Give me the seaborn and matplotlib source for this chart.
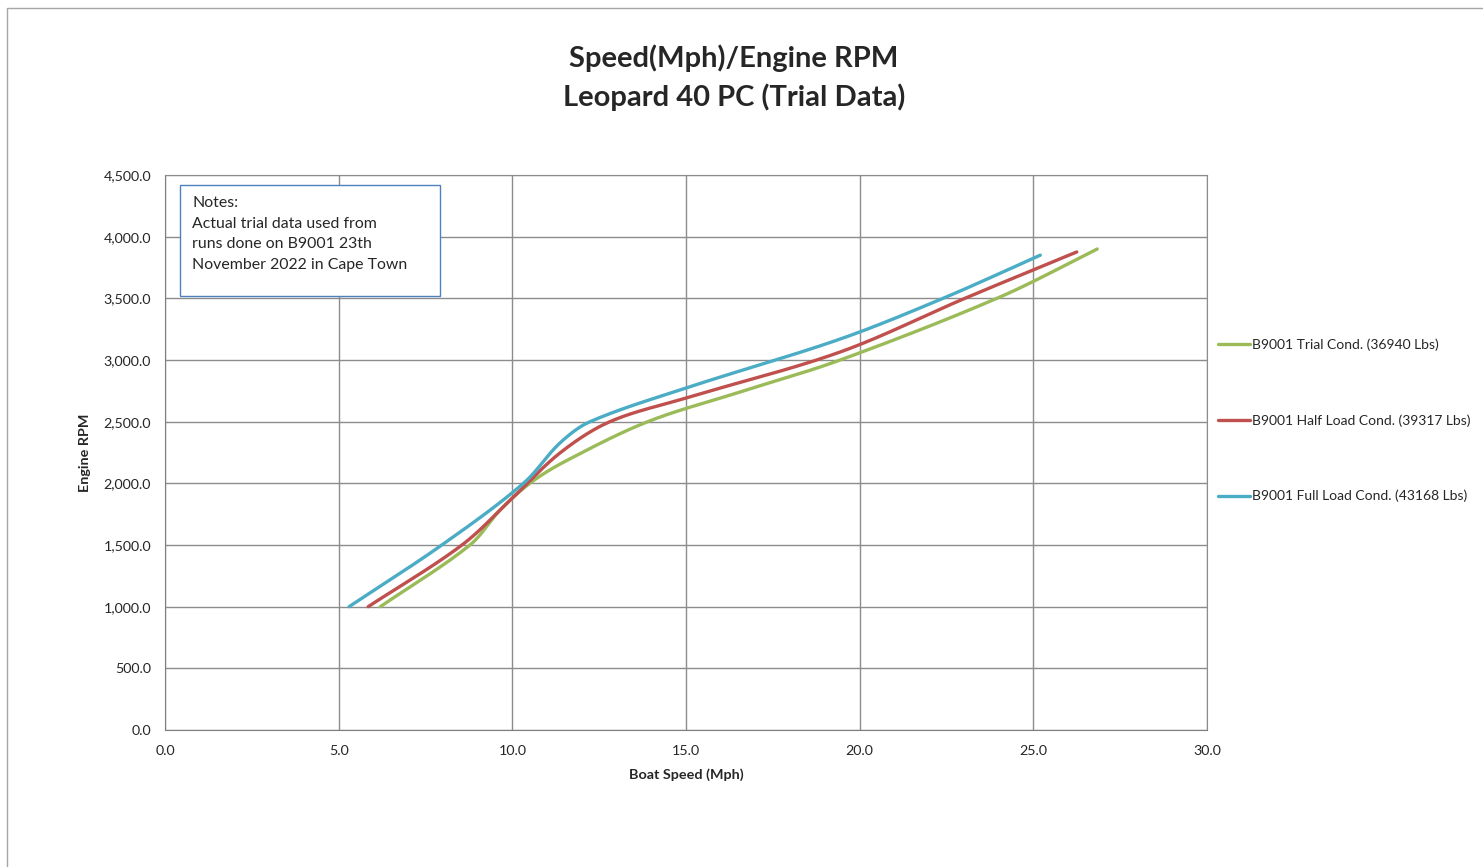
import numpy as np
import pandas as pd
import matplotlib
matplotlib.use("Agg")
import matplotlib.pyplot as plt
from matplotlib.patches import Rectangle
from matplotlib.ticker import FuncFormatter, MultipleLocator
import seaborn as sns

# values
trial_speed = [6.2, 8.78, 9.65, 10.55, 11.6, 13.9, 16.56, 19.44, 24.04, 26.84]
trial_rpm = [1000, 1500, 1784, 2010, 2190, 2500, 2741, 3000, 3511, 3900]
half_speed = [5.85, 8.55, 10.0, 11.37, 12.81, 15.0, 19.44, 23.03, 26.25]
half_rpm = [1000, 1500, 1880, 2246, 2500, 2692, 3065, 3500, 3876]
full_speed = [5.3, 7.97, 10.32, 11.37, 12.24, 15.0, 19.44, 22.4, 25.2]
full_rpm = [1000, 1500, 2000, 2327, 2500, 2773, 3170, 3500, 3850]

labels = ["B9001 Trial Cond. (36940 Lbs)",
          "B9001 Half Load Cond. (39317 Lbs)",
          "B9001 Full Load Cond. (43168 Lbs)"]
colors = ["#9BBB59", "#C0504D", "#4BACC6"]


def smooth(xs, ys, n=30):
	# smoothed line like excel, tangents scaled by chord length on screen
	sx, sy = 30 / 1042, 4500 / 555
	p = np.column_stack([np.array(xs) / sx, np.array(ys) / sy])
	p = np.vstack([p[0], p, p[-1]])
	t = np.linspace(0, 1, n)[:, None]
	out = []
	for i in range(1, len(p) - 2):
		p0, p1, p2, p3 = p[i - 1], p[i], p[i + 1], p[i + 2]
		d0 = np.linalg.norm(p1 - p0)
		d1 = np.linalg.norm(p2 - p1)
		d2 = np.linalg.norm(p3 - p2)
		c1 = p1 + (p2 - p0) * d1 / (d0 + d1) / 3
		c2 = p2 - (p3 - p1) * d1 / (d1 + d2) / 3
		seg = ((1 - t) ** 3) * p1 + 3 * ((1 - t) ** 2) * t * c1 + 3 * (1 - t) * t ** 2 * c2 + t ** 3 * p2
		out.append(seg if i == 1 else seg[1:])
	out = np.vstack(out)
	return out[:, 0] * sx, out[:, 1] * sy


frames = []
for lab, sx, sy in zip(labels, [trial_speed, half_speed, full_speed], [trial_rpm, half_rpm, full_rpm]):
	x, y = smooth(sx, sy)
	frames.append(pd.DataFrame({"speed": x, "rpm": y, "series": lab}))
data = pd.concat(frames, ignore_index=True)

sns.set_style("white")
plt.rcParams['font.family'] = ['Lato', 'DejaVu Sans']

fig = plt.figure(figsize=(14.83, 8.67), dpi=100)
fig.patches.append(Rectangle((7 / 1483, -0.01), 1.1, 1 - 8 / 867 + 0.01, transform=fig.transFigure,
                             fill=False, edgecolor="#A6A6A6", linewidth=1))
ax = fig.add_axes([165 / 1483, 1 - 730 / 867, 1042 / 1483, 555 / 867])

sns.lineplot(data=data, x="speed", y="rpm", hue="series", palette=colors, sort=False,
             estimator=None, linewidth=2.4, ax=ax)

ax.set_xlim(0, 30)
ax.set_ylim(0, 4500)
ax.xaxis.set_major_locator(MultipleLocator(5))
ax.yaxis.set_major_locator(MultipleLocator(500))
ax.xaxis.set_major_formatter(FuncFormatter(lambda v, p: f"{v:,.1f}"))
ax.yaxis.set_major_formatter(FuncFormatter(lambda v, p: f"{v:,.1f}"))
ax.grid(True, color="#8C8C8C", linewidth=1)
ax.set_axisbelow(True)
for s in ["top", "right"]:
	ax.spines[s].set_color("#8C8C8C")
for s in ["left", "bottom"]:
	ax.spines[s].set_color("#7F7F7F")
ax.tick_params(axis="both", direction="out", length=5, width=1, color="#7F7F7F", labelsize=10.3)
ax.tick_params(axis="x", pad=6)
ax.tick_params(axis="y", pad=5)
ax.set_xlabel("Boat Speed (Mph)", fontsize=10.4, fontweight="bold", labelpad=8)
ax.set_ylabel("Engine RPM", fontsize=10.4, fontweight="bold", labelpad=9)

leg = ax.legend(loc="upper left", bbox_to_anchor=(0.999, 0.728), frameon=False, fontsize=10,
                handlelength=2.3, handletextpad=0.1, labelspacing=4.55)
for line in leg.get_lines():
	line.set_linewidth(2.4)

fig.text(734 / 1483, 1 - 58 / 867, "Speed(Mph)/Engine RPM", ha="center", va="center",
         fontsize=21, fontweight="bold")
fig.text(734 / 1483, 1 - 97 / 867, "Leopard 40 PC (Trial Data)", ha="center", va="center",
         fontsize=21, fontweight="bold")

# notes box
fig.patches.append(Rectangle((180 / 1483, 1 - 296 / 867), 260 / 1483, 111 / 867, transform=fig.transFigure,
                             facecolor="white", edgecolor="#4F81BD", linewidth=1, zorder=5))
fig.text(192 / 1483, 1 - 196 / 867,
         "Notes:\nActual trial data used from\nruns done on B9001 23th\nNovember 2022 in Cape Town",
         ha="left", va="top", fontsize=11.4, linespacing=1.6, zorder=6)

fig.savefig("out.png", dpi=100)
